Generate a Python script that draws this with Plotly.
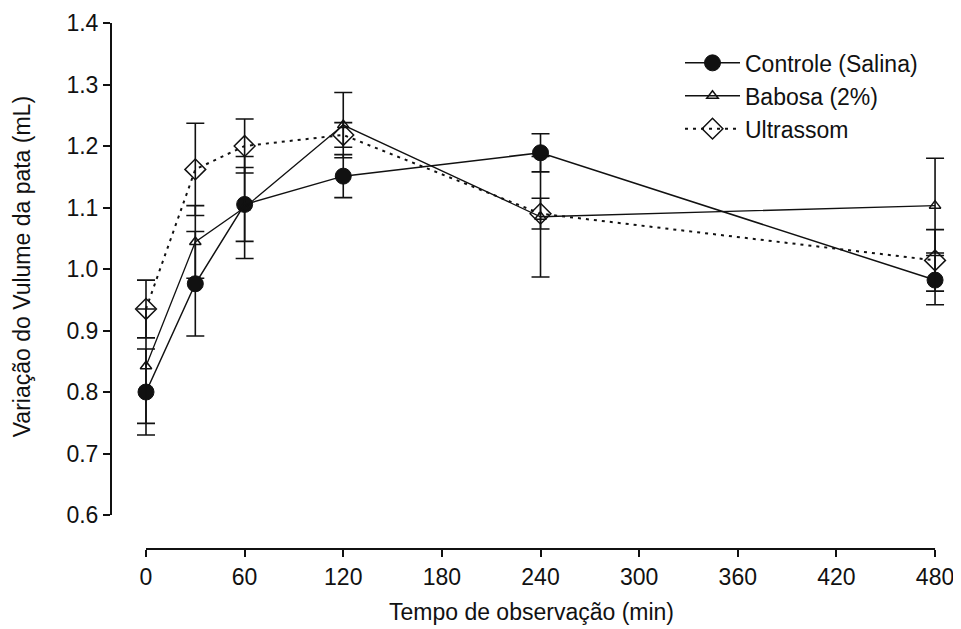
import plotly.graph_objects as go

# Data
tempo = [0, 30, 60, 120, 240, 480]

controle = [0.800, 0.976, 1.105, 1.151, 1.189, 0.982]
controle_err = [0.070, 0.085, 0.060, 0.035, 0.031, 0.040]

babosa = [0.842, 1.044, 1.100, 1.234, 1.085, 1.103]
babosa_err = [0.093, 0.059, 0.083, 0.053, 0.098, 0.077]

ultrassom = [0.935, 1.162, 1.200, 1.218, 1.090, 1.014]
ultrassom_err = [0.047, 0.075, 0.044, 0.020, 0.025, 0.050]

series_names = ["Controle (Salina)", "Babosa (2%)", "Ultrassom"]

x_ticks = [0, 60, 120, 180, 240, 300, 360, 420, 480]
y_ticks = [0.6, 0.7, 0.8, 0.9, 1.0, 1.1, 1.2, 1.3, 1.4]

x_title = "Tempo de observação (min)"
y_title = "Variação do Vulume da pata (mL)"

FONT = "Liberation Sans, Arial, sans-serif"
INK = "#111111"
FS = 23

fig = go.Figure()

def err(vals):
    return dict(type="data", array=vals, visible=True, color=INK,
                thickness=1.6, width=9)

fig.add_trace(go.Scatter(
    x=tempo, y=controle, name=series_names[0], mode="lines+markers",
    line=dict(color=INK, width=1.5),
    marker=dict(symbol="circle", size=16, color=INK, line=dict(color=INK, width=1)),
    error_y=err(controle_err), cliponaxis=False))

fig.add_trace(go.Scatter(
    x=tempo, y=babosa, name=series_names[1], mode="lines+markers",
    line=dict(color=INK, width=1.3),
    marker=dict(symbol="triangle-up-open", size=10, color=INK, line=dict(color=INK, width=1.5)),
    error_y=err(babosa_err), cliponaxis=False))

fig.add_trace(go.Scatter(
    x=tempo, y=ultrassom, name=series_names[2], mode="lines+markers",
    line=dict(color=INK, width=2, dash="3px,5px"),
    marker=dict(symbol="diamond-open", size=16, color=INK, line=dict(color=INK, width=1.5)),
    error_y=err(ultrassom_err), cliponaxis=False))

# offset x-axis line, spanning only 0..480
fig.add_shape(type="line", xref="x", yref="paper", x0=x_ticks[0], x1=x_ticks[-1],
              y0=0, y1=0, line=dict(color=INK, width=2))

fig.add_annotation(text=y_title, xref="paper", yref="paper", x=-0.107, y=0.536,
                   xanchor="center", yanchor="middle", textangle=-90, showarrow=False,
                   font=dict(family=FONT, size=FS, color=INK))

fig.update_layout(
    width=953, height=621,
    margin=dict(l=104, r=10, t=15, b=80),
    paper_bgcolor="white", plot_bgcolor="white",
    font=dict(family=FONT, size=FS, color=INK),
    showlegend=True,
    legend=dict(x=0.677, y=0.965, xanchor="left", yanchor="top",
                bgcolor="rgba(0,0,0,0)", font=dict(size=FS, color=INK),
                itemwidth=55, tracegroupgap=0),
    xaxis=dict(range=[-20.68, 489.7], anchor="free", position=0,
               showline=False, showgrid=False, zeroline=False,
               tickmode="array", tickvals=x_ticks, ticktext=[str(v) for v in x_ticks],
               ticks="outside", ticklen=7, tickwidth=2, tickcolor=INK,
               tickfont=dict(size=FS, color=INK), ticklabeloverflow="allow",
               title=dict(text=x_title, font=dict(size=FS, color=INK)),
               automargin=False),
    yaxis=dict(range=[0.6, 1.4], domain=[0.0646, 1],
               showline=True, linecolor=INK, linewidth=2,
               showgrid=False, zeroline=False,
               tickmode="array", tickvals=y_ticks, ticktext=[f"{v:.1f}" for v in y_ticks],
               ticks="outside", ticklen=7, tickwidth=2, tickcolor=INK,
               tickfont=dict(size=FS, color=INK), ticklabeloverflow="allow",
               automargin=False),
)

fig.write_html("out.html")
